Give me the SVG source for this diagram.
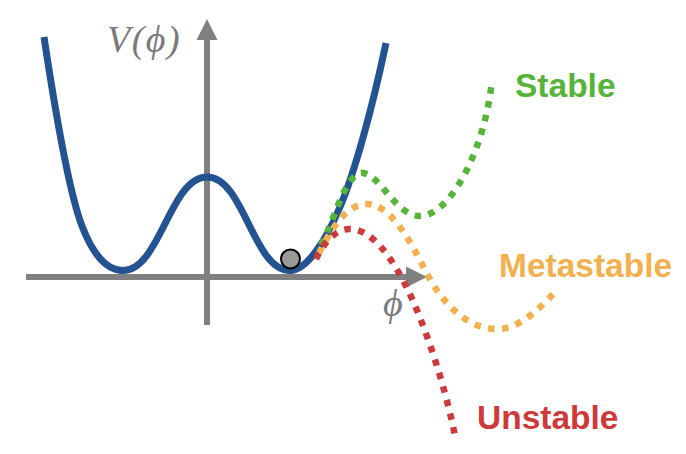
<svg xmlns="http://www.w3.org/2000/svg" width="686" height="454" viewBox="0 0 686 454">
  <style>
    .axis { stroke: #808080; stroke-width: 6; fill: none; }
    .head { fill: #808080; }
    .pot { stroke: #245391; stroke-width: 7; fill: none; stroke-linecap: butt; stroke-linejoin: round; }
    .dot { stroke-width: 6.5; fill: none; stroke-dasharray: 6.5 7.5; stroke-linecap: butt; }
    .sym { font-family: "Liberation Serif", "DejaVu Serif", serif; font-style: italic; font-size: 38px; fill: #7a7a7a; }
    .lab { font-family: "Liberation Sans", Arial, sans-serif; font-weight: bold; font-size: 33.5px; }
  </style>
  <g id="axes">
    <line class="axis" x1="26" y1="277" x2="408" y2="277"/>
    <polygon class="head" points="427,277 406,266.5 406,287.5"/>
    <line class="axis" x1="207" y1="325" x2="207" y2="38"/>
    <polygon class="head" points="207,19 196.5,40 217.5,40"/>
    <text class="sym" x="107" y="52" letter-spacing="1.5">V(ϕ)</text>
    <text class="sym" x="383" y="316">ϕ</text>
  </g>
  <g id="potential">
    <path class="pot" d="M44,37 C58,130 72,200 82,226 C92,252 105,270.5 123,270.5 C160,270.5 170,177 207,177 C244,177 253,270.5 290,270.5 C307,270.5 326,240 340,207 C354,174 372,110 386,43"/>
  </g>
  <g id="connectors">
    <path id="stable-path" class="dot" stroke="#56b43b" d="M321,245 C333,225 345,173 362,173 C380,173 395,216 420,216 C450,216 485,150 492,80"/>
    <path id="metastable-path" class="dot" stroke="#f2b04f" d="M319,253 C330,232 345,204 367,204 C390,204 410,240 425,270 C440,300 465,329 497,329 C520,329 540,308 557,290"/>
    <path id="unstable-path" class="dot" stroke="#cd3a3b" d="M316,259 C325,240 337,229 350,229 C372,229 392,258 407,288 C425,325 445,385 455,436"/>
  </g>
  <g id="ball">
    <circle cx="290.5" cy="259" r="9.5" fill="#999999" stroke="#000000" stroke-width="2"/>
  </g>
  <g id="stable">
    <text class="lab" fill="#56b43b" x="515" y="97">Stable</text>
  </g>
  <g id="metastable">
    <text class="lab" fill="#f2b04f" x="499" y="277">Metastable</text>
  </g>
  <g id="unstable">
    <text class="lab" fill="#cd3a3b" x="477" y="429">Unstable</text>
  </g>
</svg>
